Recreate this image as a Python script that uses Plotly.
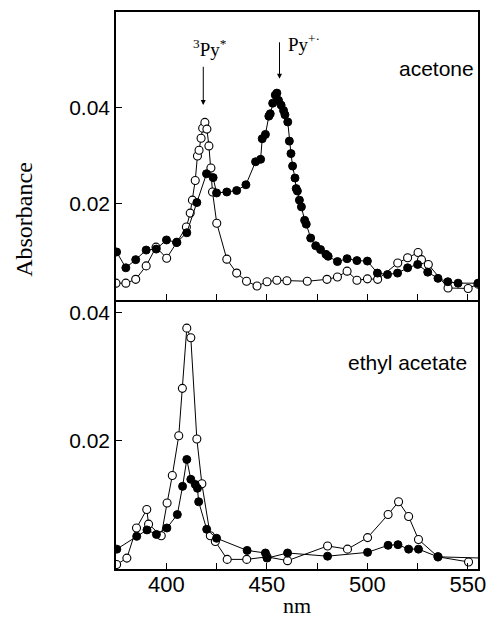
import plotly.graph_objects as go

# ---------------- data ----------------
# acetone (top panel)
ac_open_x = [375, 379.9, 384.8, 390.0, 394.9, 400.2, 405.2, 410.0, 411.9, 413.0, 414.4, 415.5,
             416.3, 417.3, 418.1, 419.2, 420.2, 421.2, 422.2, 423.0, 425.1, 430.1, 435.0, 439.9,
             445.1, 450.1, 455.0, 460.0, 470.1, 479.9, 485.1, 489.9, 494.8, 500.0, 505.1, 515.1,
             520.0, 525.2, 526.9, 530.3, 540.1, 550.1, 555]
ac_open_y = [0.0035, 0.0035, 0.0043, 0.0071, 0.0110, 0.0087, 0.0120, 0.0152, 0.0181, 0.0208,
             0.0249, 0.0300, 0.0312, 0.0337, 0.0358, 0.0370, 0.0356, 0.0321, 0.0275, 0.0225,
             0.0160, 0.0085, 0.0056, 0.0039, 0.0029, 0.0038, 0.0041, 0.0040, 0.0039, 0.0043,
             0.0048, 0.0060, 0.0041, 0.0044, 0.0043, 0.0077, 0.0088, 0.0099, 0.0084, 0.0074,
             0.0025, 0.0024, 0.0033]

ac_fill_x = [375.3, 379.9, 384.8, 390.0, 395.0, 400.1, 405.2, 410.2, 415.2, 420.0, 423.3, 425.0,
             430.1, 435.0, 439.6, 444.4, 446.9, 447.7, 449.3, 451.0, 451.7, 452.9, 454.2, 455.0,
             455.8, 457.1, 458.3, 459.0, 460.4, 461.2, 462.0, 462.8, 464.0, 464.6, 465.2, 466.2,
             467.2, 468.8, 469.6, 471.8, 474.3, 476.7, 479.4, 480.5, 485.1, 489.9, 494.8, 500.0,
             505.0, 510.0, 515.0, 520.0, 525.0, 530.0, 535.1, 540.0, 545.1, 555]
ac_fill_y = [0.0100, 0.0067, 0.0084, 0.0104, 0.0106, 0.0125, 0.0120, 0.0140, 0.0203, 0.0263,
             0.0255, 0.0223, 0.0225, 0.0228, 0.0240, 0.0288, 0.0293, 0.0336, 0.0345, 0.0383,
             0.0388, 0.0410, 0.0427, 0.0431, 0.0416, 0.0406, 0.0395, 0.0386, 0.0371, 0.0331,
             0.0305, 0.0279, 0.0254, 0.0232, 0.0227, 0.0208, 0.0194, 0.0166, 0.0158, 0.0129,
             0.0113, 0.0105, 0.0095, 0.0091, 0.0080, 0.0086, 0.0082, 0.0081, 0.0056, 0.0053,
             0.0056, 0.0067, 0.0074, 0.0058, 0.0045, 0.0038, 0.0035, 0.0035]

# ethyl acetate (bottom panel)
ea_open_x = [375.3, 380.4, 385.2, 390.3, 391.2, 397.5, 400.4, 403.0, 406.2, 408.0, 410.2, 412.2,
             415.2, 417.7, 421.9, 424.4, 430.3, 440.0, 450.1, 460.3, 480.2, 490.1, 500.1, 510.3,
             515.5, 520.5, 525.4, 535.1, 550.3]
ea_open_y = [0.0007, 0.0017, 0.0064, 0.0093, 0.0070, 0.0052, 0.0103, 0.0146, 0.0208, 0.0282,
             0.0376, 0.0361, 0.0203, 0.0133, 0.0052, 0.0043, 0.0015, 0.0015, 0.0019, 0.0013,
             0.0036, 0.0031, 0.0049, 0.0085, 0.0105, 0.0082, 0.0046, 0.0019, 0.0011]

ea_fill_x = [375.4, 385.3, 390.4, 395.1, 400.3, 405.5, 408.1, 410.2, 412.2, 414.4, 415.5, 416.1,
             420.1, 425.0, 440.2, 449.3, 450.1, 460.3, 480.2, 500.1, 510.3, 515.2, 520.5, 525.4,
             535.1, 558]
ea_fill_y = [0.0031, 0.0051, 0.0061, 0.0054, 0.0064, 0.0085, 0.0129, 0.0171, 0.0140, 0.0132,
             0.0126, 0.0105, 0.0062, 0.0048, 0.0029, 0.0025, 0.0017, 0.0025, 0.0020, 0.0026,
             0.0037, 0.0038, 0.0031, 0.0031, 0.0019, 0.0017]

x_major_ticks = [400, 450, 500, 550]
x_major_text = ["400", "450", "500", "550"]
x_minor_ticks = [425, 475, 525]
y_ticks = [0.02, 0.04]
y_ticktext = ["0.02", "0.04"]

# ---------------- figure ----------------
fig = go.Figure()

line_style = dict(color="black", width=1)
open_marker = dict(symbol="circle", size=8, color="white", line=dict(color="black", width=1.1))
fill_marker = dict(symbol="circle", size=8, color="black", line=dict(color="black", width=1))

fig.add_trace(go.Scatter(x=ac_open_x, y=ac_open_y, mode="lines+markers", line=line_style,
                         marker=open_marker, xaxis="x2", yaxis="y2", showlegend=False))
fig.add_trace(go.Scatter(x=ac_fill_x, y=ac_fill_y, mode="lines+markers", line=line_style,
                         marker=fill_marker, xaxis="x2", yaxis="y2", showlegend=False))
fig.add_trace(go.Scatter(x=ea_open_x, y=ea_open_y, mode="lines+markers", line=line_style,
                         marker=open_marker, xaxis="x", yaxis="y", showlegend=False))
fig.add_trace(go.Scatter(x=ea_fill_x, y=ea_fill_y, mode="lines+markers", line=line_style,
                         marker=fill_marker, xaxis="x", yaxis="y", showlegend=False))

tick_font = dict(family="Liberation Sans, Arial, sans-serif", size=21, color="black")
axis_base = dict(showline=True, linecolor="black", linewidth=1.5,
                 ticks="inside", ticklen=6, tickwidth=1.2, tickcolor="black",
                 showgrid=False, zeroline=False)
minor_ticks = dict(tickvals=x_minor_ticks, ticks="inside", ticklen=6, tickwidth=1.2,
                   tickcolor="black", showgrid=False)

split = 0.483
fig.update_layout(
    width=495, height=620,
    margin=dict(l=116, r=9, t=12, b=51),
    paper_bgcolor="white", plot_bgcolor="white",
    xaxis=dict(domain=[0, 1], range=[375, 555], anchor="y", mirror=False,
               tickvals=x_major_ticks, ticktext=x_major_text, minor=minor_ticks,
               ticklabelstandoff=-5,
               tickfont=dict(family="Liberation Sans, Arial, sans-serif", size=22,
                             color="black"),
               **axis_base),
    yaxis=dict(domain=[0, split], range=[0, 0.042], anchor="x", mirror=True,
               tickvals=y_ticks, ticktext=y_ticktext, tickfont=tick_font, **axis_base),
    xaxis2=dict(domain=[0, 1], range=[375, 555], anchor="y2", mirror=True,
                tickvals=x_major_ticks, minor=minor_ticks, showticklabels=False, **axis_base),
    yaxis2=dict(domain=[split, 1], range=[0, 0.06], anchor="x2", mirror=True,
                tickvals=y_ticks, ticktext=y_ticktext, tickfont=tick_font, **axis_base),
)

serif = "Liberation Serif, Times New Roman, serif"
sans = "Liberation Sans, Arial, sans-serif"
annotations = [
    dict(text="Absorbance", xref="paper", yref="paper", x=-0.254, y=0.627, showarrow=False,
         textangle=-90, font=dict(family=serif, size=24, color="black"),
         xanchor="center", yanchor="middle"),
    dict(text="nm", xref="paper", yref="paper", x=0.5, y=-0.066, showarrow=False,
         font=dict(family=serif, size=22, color="black"), xanchor="center", yanchor="middle"),
    dict(text="acetone", xref="x2", yref="y2", x=534.5, y=0.0483, showarrow=False,
         font=dict(family=sans, size=21, color="black"), xanchor="center", yanchor="middle"),
    dict(text="ethyl acetate", xref="x", yref="y", x=519.9, y=0.0323, showarrow=False,
         font=dict(family=sans, size=21, color="black"), xanchor="center", yanchor="middle"),
    dict(text="<sup>3</sup>Py<sup>*</sup>", xref="x2", yref="y2", x=421.6, y=0.0525,
         showarrow=False, font=dict(family=serif, size=19, color="black"),
         xanchor="center", yanchor="middle"),
    dict(text="Py<sup>+·</sup>", xref="x2", yref="y2", x=459.5, y=0.0535,
         showarrow=False, font=dict(family=serif, size=19, color="black"),
         xanchor="left", yanchor="middle"),
    dict(text="", xref="x2", yref="y2", x=418.4, y=0.0406, axref="x2", ayref="y2",
         ax=418.4, ay=0.0489, showarrow=True, arrowhead=2, arrowsize=1, arrowwidth=1,
         arrowcolor="black"),
    dict(text="", xref="x2", yref="y2", x=456.3, y=0.0461, axref="x2", ayref="y2",
         ax=456.3, ay=0.0540, showarrow=True, arrowhead=2, arrowsize=1, arrowwidth=1,
         arrowcolor="black"),
]
fig.update_layout(annotations=annotations)

fig.write_html("out.html")
